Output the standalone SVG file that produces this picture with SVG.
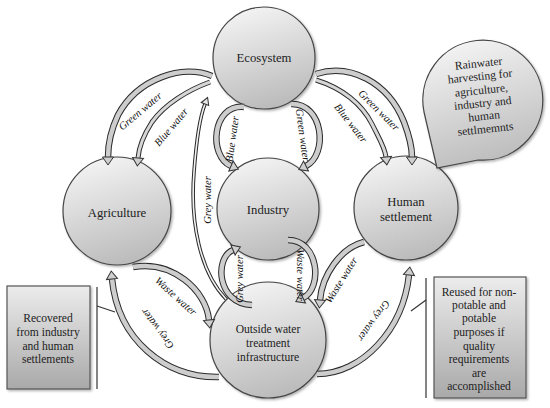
<svg xmlns="http://www.w3.org/2000/svg" width="550" height="408" viewBox="0 0 550 408">
<defs>
<linearGradient id="gc" x1="0.3" y1="0" x2="0.6" y2="1">
<stop offset="0" stop-color="#f4f4f4"/>
<stop offset="1" stop-color="#bababa"/>
</linearGradient>
<linearGradient id="gb" x1="0" y1="0" x2="0" y2="1">
<stop offset="0" stop-color="#ececec"/>
<stop offset="1" stop-color="#a9a9a9"/>
</linearGradient>
<filter id="sh" x="-20%" y="-20%" width="140%" height="140%">
<feDropShadow dx="1.5" dy="1.5" stdDeviation="1.2" flood-color="#000" flood-opacity="0.3"/>
</filter>
<marker id="ah" viewBox="-2 -8 14 16" markerWidth="14" markerHeight="16" refX="0" refY="0" orient="auto" markerUnits="userSpaceOnUse">
<path d="M0,-5.5 L8,0 L0,5.5 Z" fill="#cfcfcf" stroke="#333" stroke-width="1"/>
</marker>
<marker id="ahs" viewBox="-2 -6 12 12" markerWidth="12" markerHeight="12" refX="0" refY="0" orient="auto" markerUnits="userSpaceOnUse">
<path d="M0,-4 L7,0 L0,4 Z" fill="#e6e6e6" stroke="#333" stroke-width="1"/>
</marker>
</defs>
<style>
.node{fill:url(#gc);stroke:#454545;stroke-width:1.2;filter:url(#sh)}
.box{fill:url(#gb);stroke:#555;stroke-width:1.2;filter:url(#sh)}
.lbl{font-family:"Liberation Serif","DejaVu Serif",serif;font-size:12.7px;fill:#222;text-anchor:middle}
.bt{font-family:"Liberation Serif","DejaVu Serif",serif;font-size:11.6px;fill:#222;text-anchor:middle}
.al{font-family:"Liberation Serif","DejaVu Serif",serif;font-style:italic;font-size:10.6px;fill:#111;text-anchor:middle}
.bo{fill:none;stroke:#2a2a2a;stroke-width:6.5}
.bi{fill:none;stroke:#cdcdcd;stroke-width:4.5;marker-end:url(#ah)}
.so{fill:none;stroke:#2a2a2a;stroke-width:5}
.si{fill:none;stroke:#d6d6d6;stroke-width:3;marker-end:url(#ah)}
.to{fill:none;stroke:#2a2a2a;stroke-width:3.6}
.ti{fill:none;stroke:#f2f2f2;stroke-width:1.6;marker-end:url(#ahs)}
.ln{fill:none;stroke:#333;stroke-width:1.2}
</style>
<rect width="550" height="408" fill="#fff"/>

<g id="ecosystem">
<circle class="node" cx="264" cy="58" r="51"/>
<text class="lbl" x="264" y="62">Ecosystem</text>
</g>
<g id="agriculture">
<circle class="node" cx="117" cy="211" r="54"/>
<text class="lbl" x="117" y="217">Agriculture</text>
</g>
<g id="industry">
<circle class="node" cx="268" cy="209" r="51"/>
<text class="lbl" x="268" y="214">Industry</text>
</g>
<g id="human-settlement">
<circle class="node" cx="406" cy="208" r="52"/>
<text class="lbl" x="406" y="206">Human</text>
<text class="lbl" x="406" y="221">settlement</text>
</g>
<g id="outside-water-treatment">
<circle class="node" cx="268" cy="340" r="58"/>
<text class="bt" x="268" y="333">Outside water</text>
<text class="bt" x="268" y="347">treatment</text>
<text class="bt" x="268" y="361">infrastructure</text>
</g>

<g id="rainwater-bubble">
<path class="node" d="M437,168 L424,112 A60,60 0 1 1 478,160 Z"/>
<g transform="translate(482,96) rotate(-6)">
<text class="bt" x="0" y="-29">Rainwater</text>
<text class="bt" x="0" y="-16">harvesting for</text>
<text class="bt" x="0" y="-2">agriculture,</text>
<text class="bt" x="0" y="11">industry and</text>
<text class="bt" x="0" y="24">human</text>
<text class="bt" x="0" y="37">settlmemnts</text>
</g>
</g>

<g id="recovered-note">
<rect class="box" x="7" y="286" width="83" height="103"/>
<line class="ln" x1="97" y1="287" x2="97" y2="389"/>
<line class="ln" x1="97" y1="306" x2="115" y2="312"/>
<text class="bt" x="48" y="322">Recovered</text>
<text class="bt" x="48" y="336">from industry</text>
<text class="bt" x="48" y="350">and human</text>
<text class="bt" x="48" y="363">settlements</text>
</g>

<g id="reused-note">
<rect class="box" x="434" y="277" width="92" height="121"/>
<line class="ln" x1="426" y1="278" x2="426" y2="398"/>
<line class="ln" x1="426" y1="300" x2="411" y2="311"/>
<text class="bt" x="479" y="296">Reused for non-</text>
<text class="bt" x="479" y="309">potable and</text>
<text class="bt" x="479" y="322">potable</text>
<text class="bt" x="479" y="336">purposes if</text>
<text class="bt" x="479" y="350">quality</text>
<text class="bt" x="479" y="363">requirements</text>
<text class="bt" x="479" y="377">are</text>
<text class="bt" x="479" y="390">accomplished</text>
</g>

<g id="connectors">
<!-- Ecosystem -> Agriculture -->
<path class="bo" d="M212,76 C183,64 138,78 118,115 C110,132 108,146 108,157"/>
<path class="bi" d="M212,76 C183,64 138,78 118,115 C110,132 108,146 108,157"/>
<path class="so" d="M210,82 C188,90 165,104 152,122 C143,136 139,146 138,158"/>
<path class="si" d="M210,82 C188,90 165,104 152,122 C143,136 139,146 138,158"/>
<!-- Ecosystem -> Human settlement -->
<path class="bo" d="M316,74 C350,63 388,82 404,122 C410,138 412,148 412,157"/>
<path class="bi" d="M316,74 C350,63 388,82 404,122 C410,138 412,148 412,157"/>
<path class="so" d="M316,80 C342,88 362,104 372,124 C380,140 385,148 386,157"/>
<path class="si" d="M316,80 C342,88 362,104 372,124 C380,140 385,148 386,157"/>
<!-- Ecosystem -> Industry -->
<path class="bo" d="M244,107 C212,104 208,156 231,166"/>
<path class="bi" d="M244,107 C212,104 208,156 231,166"/>
<path class="bo" d="M291,104 C324,103 328,155 306,166"/>
<path class="bi" d="M291,104 C324,103 328,155 306,166"/>
<!-- Outside -> Industry (Grey water) and Industry -> Outside (Waste water) -->
<path class="bo" d="M252,305 C217,304 214,258 233,250"/>
<path class="bi" d="M252,305 C217,304 214,258 233,250"/>
<path class="bo" d="M288,240 C319,240 323,288 303,298"/>
<path class="bi" d="M288,240 C319,240 323,288 303,298"/>
<!-- Agriculture -> Outside (Waste water) -->
<path class="bo" d="M133,267 C172,260 206,290 209,320"/>
<path class="bi" d="M133,267 C172,260 206,290 209,320"/>
<!-- Outside -> Agriculture (Grey water) -->
<path class="bo" d="M219,377 C165,378 118,340 112,279"/>
<path class="bi" d="M219,377 C165,378 118,340 112,279"/>
<!-- Human -> Outside (Waste water) -->
<path class="bo" d="M364,242 C340,248 322,276 320,300"/>
<path class="bi" d="M364,242 C340,248 322,276 320,300"/>
<!-- Outside -> Human (Grey water) -->
<path class="bo" d="M317,374 C362,374 403,330 409,275"/>
<path class="bi" d="M317,374 C362,374 403,330 409,275"/>
<!-- Outside -> Ecosystem (Grey water, long) -->
<path class="to" d="M226,299 C200,272 190,222 194,172 C197,132 201,114 205,104"/>
<path class="ti" d="M226,299 C200,272 190,222 194,172 C197,132 201,114 205,104"/>

<!-- connector labels -->
<text class="al" transform="translate(140,111) rotate(-40)" dy="0.35em">Green water</text>
<text class="al" transform="translate(171,127) rotate(-50)" dy="0.35em">Blue water</text>
<text class="al" transform="translate(379,110) rotate(45)" dy="0.35em">Green water</text>
<text class="al" transform="translate(351,123) rotate(52)" dy="0.35em">Blue water</text>
<text class="al" transform="translate(232,139) rotate(-82)" dy="0.35em">Blue water</text>
<text class="al" transform="translate(303,135) rotate(82)" dy="0.35em">Green water</text>
<text class="al" transform="translate(239,279) rotate(-90)" dy="0.35em">Grey water</text>
<text class="al" transform="translate(301,275) rotate(90)" dy="0.35em">Waste water</text>
<text class="al" transform="translate(176,296) rotate(42)" dy="0.35em">Waste water</text>
<text class="al" transform="translate(157,329) rotate(-127)" dy="0.35em">Grey water</text>
<text class="al" transform="translate(341,280) rotate(-58)" dy="0.35em">Waste water</text>
<text class="al" transform="translate(374,321) rotate(126)" dy="0.35em">Grey water</text>
<text class="al" transform="translate(207,200) rotate(-90)" dy="0.35em">Grey water</text>
</g>
</svg>
